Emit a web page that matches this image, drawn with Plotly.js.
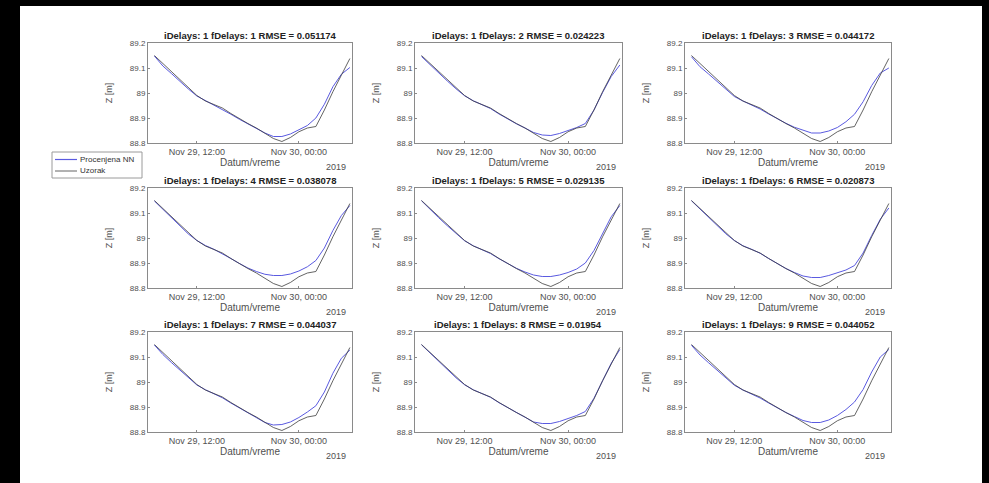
<!DOCTYPE html>
<html><head><meta charset="utf-8">
<script src="https://cdn.plot.ly/plotly-3.0.1.min.js"></script>
<style>
html,body{margin:0;padding:0;background:#000;width:989px;height:483px;overflow:hidden}
#chart{position:absolute;left:20px;top:6px;width:962px;height:477px;background:#fff}
</style>
</head><body><div id="chart"></div>
<script>
// ---- data ----
const times = [
  '2019-11-29 07:00','2019-11-29 08:00','2019-11-29 09:00','2019-11-29 10:00',
  '2019-11-29 11:00','2019-11-29 12:00','2019-11-29 13:00','2019-11-29 14:00',
  '2019-11-29 15:00','2019-11-29 16:00','2019-11-29 17:00','2019-11-29 18:00',
  '2019-11-29 19:00','2019-11-29 20:00','2019-11-29 21:00','2019-11-29 22:00',
  '2019-11-29 23:00','2019-11-30 00:00','2019-11-30 01:00','2019-11-30 02:00',
  '2019-11-30 03:00','2019-11-30 04:00','2019-11-30 05:00','2019-11-30 06:00'
];
const sample = [89.150,89.118,89.082,89.050,89.018,88.990,88.968,88.955,88.940,88.918,88.897,88.878,
                88.860,88.838,88.818,88.806,88.822,88.845,88.860,88.866,88.932,89.005,89.072,89.138];
const est1 = [89.148,89.108,89.078,89.046,89.016,88.988,88.970,88.953,88.936,88.915,88.895,88.876,
              88.858,88.840,88.826,88.826,88.836,88.852,88.870,88.900,88.955,89.025,89.075,89.102];
const est2 = [89.146,89.112,89.080,89.048,89.017,88.989,88.969,88.954,88.938,88.916,88.896,88.877,
              88.860,88.842,88.832,88.830,88.838,88.850,88.862,88.878,88.932,89.002,89.066,89.112];
const est3 = [89.145,89.105,89.076,89.045,89.014,88.986,88.968,88.952,88.936,88.916,88.896,88.879,
              88.863,88.850,88.840,88.840,88.848,88.862,88.885,88.915,88.965,89.030,89.080,89.100];
const est4 = [89.148,89.114,89.080,89.048,89.016,88.990,88.970,88.955,88.938,88.918,88.898,88.880,
              88.866,88.855,88.850,88.850,88.856,88.868,88.885,88.910,88.960,89.030,89.090,89.130];
const est5 = [89.149,89.114,89.081,89.049,89.017,88.989,88.969,88.954,88.938,88.917,88.897,88.879,
              88.864,88.852,88.846,88.846,88.852,88.862,88.876,88.900,88.950,89.020,89.085,89.130];
const est6 = [89.149,89.115,89.081,89.049,89.017,88.990,88.969,88.955,88.939,88.918,88.897,88.878,
              88.862,88.848,88.842,88.842,88.850,88.860,88.872,88.890,88.940,89.010,89.075,89.120];
const est7 = [89.148,89.110,89.078,89.047,89.016,88.988,88.969,88.953,88.937,88.916,88.896,88.877,
              88.859,88.838,88.828,88.830,88.840,88.858,88.880,88.905,88.960,89.035,89.095,89.128];
const est8 = [89.149,89.115,89.081,89.049,89.017,88.989,88.969,88.954,88.939,88.917,88.897,88.878,
              88.860,88.840,88.834,88.834,88.842,88.854,88.866,88.882,88.935,89.005,89.075,89.130];
const est9 = [89.147,89.108,89.077,89.046,89.015,88.987,88.968,88.952,88.936,88.916,88.896,88.878,
              88.862,88.846,88.838,88.838,88.848,88.866,88.890,88.920,88.970,89.040,89.100,89.130];
const estimates = [est1,est2,est3,est4,est5,est6,est7,est8,est9];
const iDelays = [1,1,1,1,1,1,1,1,1];
const fDelays = [1,2,3,4,5,6,7,8,9];
const rmse = ['0.051174','0.024223','0.044172','0.038078','0.029135','0.020873','0.044037','0.01954','0.044052'];
const seriesNames = ['Procenjena NN','Uzorak'];
const yTickVals = [88.8,88.9,89,89.1,89.2];
const yTickText = ['88.8','88.9','89','89.1','89.2'];
const xTickVals = ['2019-11-29 12:00','2019-11-30 00:00'];
const xTickText = ['Nov 29, 12:00','Nov 30, 00:00'];
const yearLabel = '2019';
const xLabel = 'Datum/vreme';
const yLabel = 'Z [m]';

// ---- layout geometry ----
const W = 962, H = 477;
const colPx = [[128,332],[395,602],[665,871]];
const rowPx = [[37,137],[182,282],[326,426]];
const xRange = ['2019-11-29 06:15','2019-11-30 06:15'];
const yRange = [88.8,89.2];
const FONT = 'Liberation Sans, Arial, sans-serif';
const nnColor = '#5a5ae0';
const sampleColor = '#3c3c3c';
const axColor = '#8a8a8a';
const txtColor = '#505050';
const px = v => v / W, py = v => 1 - v / H;

const traces = [];
const layout = {
  width: W, height: H,
  margin: {l:0,r:0,t:0,b:0},
  paper_bgcolor: '#fff', plot_bgcolor: '#fff',
  font: {family: FONT, size: 8, color: txtColor},
  showlegend: false,
  annotations: [], shapes: []
};

for (let k = 0; k < 9; k++) {
  const r = Math.floor(k/3), c = k % 3;
  const sfx = k === 0 ? '' : String(k+1);
  const xd = [px(colPx[c][0]), px(colPx[c][1])];
  const yd = [py(rowPx[r][1]), py(rowPx[r][0])];
  traces.push({
    x: times, y: estimates[k], xaxis:'x'+sfx, yaxis:'y'+sfx,
    type:'scatter', mode:'lines', name: seriesNames[0],
    line:{color:nnColor, width:1}, hoverinfo:'skip'
  });
  traces.push({
    x: times, y: sample, xaxis:'x'+sfx, yaxis:'y'+sfx,
    type:'scatter', mode:'lines', name: seriesNames[1],
    line:{color:sampleColor, width:0.8}, hoverinfo:'skip'
  });
  layout['xaxis'+sfx] = {
    domain: xd, anchor:'y'+sfx, type:'date', range: xRange,
    tickmode:'array', tickvals: xTickVals, ticktext: xTickText,
    showline:true, mirror:true, linecolor:axColor, linewidth:1,
    ticks:'inside', ticklen:2, tickcolor:axColor, showgrid:false, zeroline:false,
    tickfont:{family:FONT,size:9,color:txtColor},
    title:{text:xLabel, font:{family:FONT,size:10,color:txtColor}, standoff:3}
  };
  layout['yaxis'+sfx] = {
    domain: yd, anchor:'x'+sfx, range: yRange,
    tickmode:'array', tickvals: yTickVals, ticktext: yTickText,
    showline:true, mirror:true, linecolor:axColor, linewidth:1,
    ticks:'inside', ticklen:2, tickcolor:axColor, showgrid:false, zeroline:false,
    tickfont:{family:FONT,size:8,color:txtColor},
    title:{text:yLabel, font:{family:FONT,size:9,color:txtColor}, standoff:15}
  };
  layout.annotations.push({
    xref:'paper', yref:'paper', x:(xd[0]+xd[1])/2, y:yd[1],
    xanchor:'center', yanchor:'bottom', yshift:0, showarrow:false,
    text:'<b>iDelays: '+iDelays[k]+' fDelays: '+fDelays[k]+' RMSE = '+rmse[k]+'</b>',
    font:{family:FONT,size:9.5,color:'#222'}
  });
  layout.annotations.push({
    xref:'paper', yref:'paper', x:xd[1], y:yd[0],
    xanchor:'right', yanchor:'top', yshift:-17, xshift:-4, showarrow:false,
    text:yearLabel, font:{family:FONT,size:9,color:txtColor}
  });
}

// ---- legend (drawn as a compact MATLAB-style box) ----
const lg = {x0:32, x1:122, y0:146, y1:172, rows:[153.5, 165], lx0:35, lx1:57, tx:58};
layout.shapes.push({type:'rect', xref:'paper', yref:'paper',
  x0:px(lg.x0), x1:px(lg.x1), y0:py(lg.y1), y1:py(lg.y0),
  line:{color:'#9a9a9a', width:1}, fillcolor:'#fff'});
[nnColor, sampleColor].forEach((col, i) => {
  layout.shapes.push({type:'line', xref:'paper', yref:'paper',
    x0:px(lg.lx0), x1:px(lg.lx1), y0:py(lg.rows[i]), y1:py(lg.rows[i]),
    line:{color:col, width: i===0 ? 1.2 : 0.8}});
  layout.annotations.push({xref:'paper', yref:'paper', x:px(lg.tx), y:py(lg.rows[i]),
    xanchor:'left', yanchor:'middle', showarrow:false, text:seriesNames[i],
    font:{family:FONT,size:8,color:'#333'}});
});

Plotly.newPlot('chart', traces, layout, {staticPlot:true, displayModeBar:false});
</script>
</body></html>
